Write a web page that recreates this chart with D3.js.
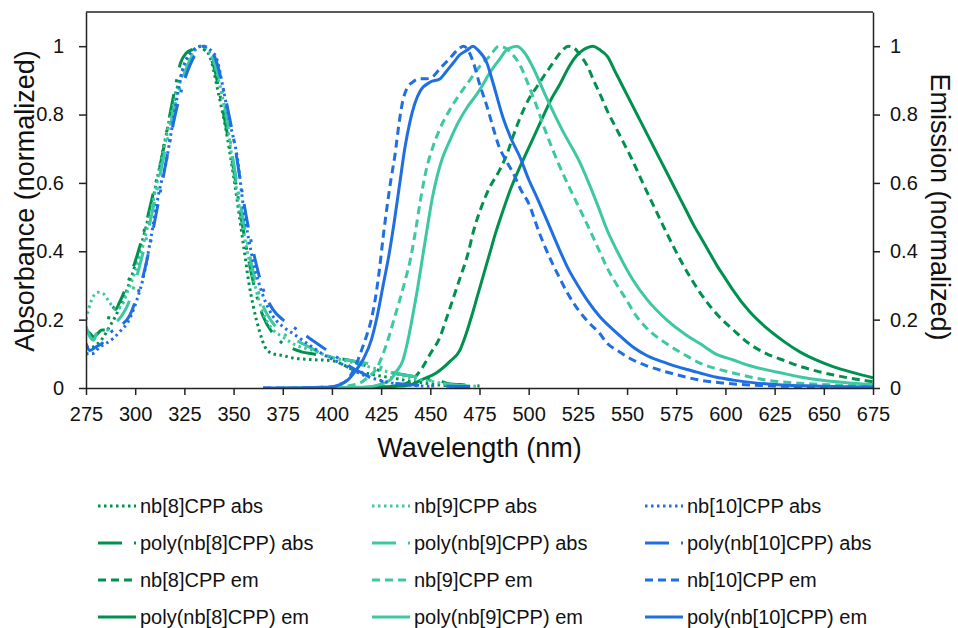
<!DOCTYPE html>
<html>
<head>
<meta charset="utf-8">
<script src="https://cdn.jsdelivr.net/npm/d3@7"></script>
<style>
  html, body { margin: 0; padding: 0; background: #fff; }
  svg { display: block; font-family: "Liberation Sans", Arial, sans-serif; }
</style>
</head>
<body>
<svg id="chart" width="958" height="628"></svg>
<script>
// ---------------- DATA ----------------
const xTicks = [275,300,325,350,375,400,425,450,475,500,525,550,575,600,625,650,675];
const yTicks = [0, 0.2, 0.4, 0.6, 0.8, 1];

// Absorbance
const nb8AbsX = [275,278,281,284,287,290,293,296,300,305,310,315,320,325,330,333,336,339,342,346,350,355,358,360,363,366,370,375,380,390,400,405,410,420,430,440,450,460,470];
const nb8AbsY = [0.12,0.12,0.13,0.15,0.18,0.21,0.25,0.29,0.36,0.46,0.58,0.72,0.85,0.94,0.99,1.0,0.99,0.95,0.87,0.76,0.62,0.42,0.30,0.24,0.17,0.12,0.10,0.095,0.088,0.083,0.08,0.07,0.055,0.04,0.03,0.02,0.012,0.006,0.003];

const polyNb8AbsX = [275,277,279,281,283,285,286,288,290,292,295,300,305,310,313,316,320,323,326,329,332,335,338,340,343,346,350,355,360,365,370,375,380,385,390,395,400,405,410,415,420,425,430,435,440,445,450,455,460,465,470,475];
const polyNb8AbsY = [0.17,0.16,0.15,0.16,0.17,0.17,0.19,0.24,0.23,0.25,0.29,0.37,0.47,0.59,0.66,0.75,0.87,0.95,0.98,0.99,1.0,0.99,0.97,0.94,0.86,0.77,0.64,0.46,0.31,0.21,0.16,0.13,0.115,0.105,0.10,0.095,0.09,0.085,0.08,0.07,0.06,0.05,0.045,0.04,0.035,0.03,0.025,0.02,0.012,0.01,0.008,0.006];

const nb9AbsX = [275,278,281,284,287,290,293,296,300,305,310,315,320,325,330,334,338,342,346,350,355,360,365,370,375,380,390,400,410,420,430,440,450,460,470,475];
const nb9AbsY = [0.20,0.26,0.28,0.275,0.25,0.23,0.24,0.28,0.34,0.44,0.57,0.71,0.84,0.93,0.985,1.0,0.98,0.91,0.80,0.64,0.46,0.32,0.22,0.17,0.15,0.13,0.11,0.09,0.075,0.06,0.045,0.03,0.02,0.01,0.006,0.005];

const polyNb9AbsX = [275,277,279,281,284,287,290,293,296,300,305,310,315,320,325,330,334,338,342,346,350,355,360,365,370,375,380,385,390,395,400,405,410,415,420,425,430,435,440,445,450,455,460,470,475];
const polyNb9AbsY = [0.18,0.15,0.14,0.17,0.17,0.17,0.19,0.21,0.24,0.31,0.42,0.55,0.69,0.82,0.92,0.98,1.0,0.98,0.92,0.81,0.66,0.49,0.34,0.24,0.19,0.16,0.145,0.13,0.115,0.10,0.09,0.085,0.08,0.075,0.07,0.06,0.05,0.04,0.035,0.03,0.022,0.015,0.01,0.006,0.005];

const nb10AbsX = [275,278,282,285,289,293,296,301,304,308,312,316,318.5,321,324,328,334.5,338,341.6,344.6,348,352,355,360,365,370,375,380,385,390,395,400,405,410,415,420,430,440,450];
const nb10AbsY = [0.10,0.10,0.12,0.13,0.146,0.17,0.19,0.26,0.32,0.44,0.57,0.67,0.755,0.84,0.93,0.98,1.0,0.99,0.96,0.88,0.78,0.67,0.53,0.37,0.27,0.21,0.18,0.16,0.14,0.12,0.10,0.085,0.07,0.055,0.04,0.03,0.015,0.008,0.005];

const polyNb10AbsX = [275,277,280,283,287,292,297,301,305,310,315,320,325,330,335,338,341,345,348,350,352,355,360,365,370,375,380,385,390,395,400,405,410,415,420,425,430,440,450,460,475];
const polyNb10AbsY = [0.13,0.11,0.12,0.13,0.16,0.18,0.21,0.27,0.35,0.49,0.64,0.79,0.90,0.97,1.0,0.99,0.96,0.87,0.79,0.73,0.66,0.55,0.40,0.29,0.23,0.20,0.18,0.16,0.14,0.12,0.10,0.08,0.06,0.045,0.03,0.02,0.015,0.01,0.006,0.005,0.004];

// Emission
const nb8EmX = [390,410,425,432,438,442,446,450,455,458,461.5,465,469,472,476,480,485,489,492,495.6,500,504,508,511,514,517.5,520,523,526,530,533,537,540,544,548,552,556,560,565,570,578.5,587,595,604,612,621,630,638,646,655,665,675];
const nb8EmY = [0,0.001,0.003,0.006,0.014,0.03,0.06,0.10,0.15,0.20,0.26,0.32,0.39,0.46,0.53,0.585,0.635,0.685,0.735,0.79,0.845,0.88,0.915,0.94,0.965,0.99,1.0,0.995,0.975,0.94,0.90,0.85,0.81,0.765,0.72,0.675,0.625,0.575,0.515,0.455,0.36,0.28,0.22,0.17,0.13,0.10,0.08,0.063,0.05,0.038,0.027,0.018];

const polyNb8EmX = [400,420,432,439.7,446,453,460,465,468,471,474,477,480,483,487,491,495,499,503,507,511,516,520,524,528,532.7,536,540,544,548,552,556,560,564,568,572,576,580,584,588,592,596,600,604,612,621,630,638,646,655,665,675];
const polyNb8EmY = [0,0.002,0.005,0.009,0.025,0.044,0.078,0.11,0.155,0.21,0.27,0.33,0.39,0.45,0.52,0.585,0.64,0.69,0.74,0.79,0.84,0.89,0.935,0.97,0.99,1.0,0.99,0.97,0.925,0.88,0.835,0.79,0.745,0.70,0.655,0.61,0.565,0.52,0.475,0.435,0.395,0.355,0.32,0.285,0.225,0.175,0.135,0.105,0.082,0.062,0.045,0.03];

const nb9EmX = [375,395,405,414,418,423,426,429.5,432,434.6,437,440,442.5,445,448,451,455,460,465,470,475,480,485,488,492,496,500,504,508,512,516,520,525,530,536,540,545,550,553,560,570,580,587,595,604,612,621,635,655,675];
const nb9EmY = [0,0.001,0.004,0.014,0.03,0.06,0.10,0.16,0.21,0.26,0.31,0.38,0.46,0.55,0.64,0.70,0.76,0.815,0.86,0.90,0.94,0.97,1.0,0.995,0.975,0.94,0.885,0.825,0.76,0.70,0.645,0.595,0.535,0.475,0.40,0.35,0.30,0.255,0.225,0.175,0.13,0.095,0.073,0.057,0.044,0.033,0.023,0.015,0.009,0.006];

const polyNb9EmX = [380,400,410,418,424,429.5,433,436,439,441,443.5,446,448.5,451,453.5,456,460,464,468.6,473.7,477,480,485,489,494,498,502,509,517,526,534.7,540,545,553,560,570,580,587,595,604,612,621,630,638,650,663,675];
const polyNb9EmY = [0,0.001,0.002,0.003,0.01,0.023,0.05,0.08,0.15,0.21,0.29,0.38,0.47,0.555,0.62,0.67,0.725,0.775,0.82,0.86,0.89,0.92,0.96,0.99,1.0,0.98,0.94,0.85,0.755,0.66,0.54,0.46,0.40,0.316,0.26,0.20,0.155,0.13,0.10,0.082,0.066,0.053,0.042,0.032,0.022,0.015,0.01];

const nb10EmX = [365,380,390,395,400,404,408,412,415,418,420,422,424,426,428,430,432,434,436,438,441,445,448,451,455,460,464,467,469,472,475,479,482,485,488,492,496,500,505,510,515,520,525,530,536,540,545,553,560,570,580,587,600,612,625,640,655,675];
const nb10EmY = [0,0,0.001,0.002,0.003,0.01,0.025,0.065,0.11,0.16,0.20,0.26,0.34,0.44,0.53,0.61,0.68,0.77,0.84,0.875,0.895,0.905,0.905,0.91,0.935,0.965,0.99,1.0,0.99,0.95,0.89,0.82,0.76,0.705,0.67,0.63,0.58,0.54,0.46,0.39,0.33,0.275,0.23,0.195,0.16,0.13,0.11,0.082,0.065,0.047,0.032,0.023,0.014,0.009,0.006,0.004,0.003,0.002];

const polyNb10EmX = [365,380,395,399,404,408,412,416,420,423,426,429,431.5,434.5,437,439.7,442,445,450,455,458,461.5,465,468.6,471.7,474,478.8,482,487,491,495.6,500,504,510.8,516,520,525,530,536,545,553,560,570,580,587,595,604,615,629,645,660,675];
const polyNb10EmY = [0,0,0.002,0.003,0.01,0.023,0.05,0.085,0.14,0.21,0.30,0.39,0.48,0.60,0.70,0.78,0.83,0.87,0.895,0.905,0.925,0.95,0.975,0.988,1.0,0.99,0.95,0.89,0.79,0.73,0.675,0.61,0.56,0.47,0.40,0.35,0.30,0.255,0.21,0.16,0.12,0.095,0.073,0.055,0.044,0.032,0.023,0.015,0.009,0.006,0.004,0.003];

const seriesNames = [
  "nb[8]CPP abs","poly(nb[8]CPP) abs","nb[8]CPP em","poly(nb[8]CPP) em",
  "nb[9]CPP abs","poly(nb[9]CPP) abs","nb[9]CPP em","poly(nb[9]CPP) em",
  "nb[10]CPP abs","poly(nb[10]CPP) abs","nb[10]CPP em","poly(nb[10]CPP) em"
];

// ---------------- STYLES ----------------
const GREEN = "#00914f", TEAL = "#3cc8a0", BLUE = "#1f6fe3";
const DOT = "2.5,3.5", LONGDASHDOT = "24,12,3,12", DASH = "8,5", SOLID = null;

const series = [
  {name: seriesNames[0], x: nb8AbsX, y: nb8AbsY, color: GREEN, dash: DOT},
  {name: seriesNames[1], x: polyNb8AbsX, y: polyNb8AbsY, color: GREEN, dash: LONGDASHDOT},
  {name: seriesNames[2], x: nb8EmX, y: nb8EmY, color: GREEN, dash: DASH},
  {name: seriesNames[3], x: polyNb8EmX, y: polyNb8EmY, color: GREEN, dash: SOLID},
  {name: seriesNames[4], x: nb9AbsX, y: nb9AbsY, color: TEAL, dash: DOT},
  {name: seriesNames[5], x: polyNb9AbsX, y: polyNb9AbsY, color: TEAL, dash: LONGDASHDOT},
  {name: seriesNames[6], x: nb9EmX, y: nb9EmY, color: TEAL, dash: DASH},
  {name: seriesNames[7], x: polyNb9EmX, y: polyNb9EmY, color: TEAL, dash: SOLID},
  {name: seriesNames[8], x: nb10AbsX, y: nb10AbsY, color: BLUE, dash: DOT},
  {name: seriesNames[9], x: polyNb10AbsX, y: polyNb10AbsY, color: BLUE, dash: LONGDASHDOT},
  {name: seriesNames[10], x: nb10EmX, y: nb10EmY, color: BLUE, dash: DASH},
  {name: seriesNames[11], x: polyNb10EmX, y: polyNb10EmY, color: BLUE, dash: SOLID}
];

// ---------------- CHART ----------------
const svg = d3.select("#chart");
const L = 86, R = 873, T = 12, B = 388;
const x = d3.scaleLinear().domain([275, 675]).range([L, R]);
const y = d3.scaleLinear().domain([0, 1.1]).range([B, T]);
const fmt = d => d === 0 ? "0" : d === 1 ? "1" : d.toFixed(1);

const line = d3.line().x(d => x(d[0])).y(d => y(d[1])).curve(d3.curveMonotoneX);

const plot = svg.append("g");
plot.append("defs").append("clipPath").attr("id", "clip")
  .append("rect").attr("x", L).attr("y", T).attr("width", R - L).attr("height", B - T);

const lines = plot.append("g").attr("clip-path", "url(#clip)");
series.forEach(s => {
  const pts = s.x.map((v, i) => [v, s.y[i]]);
  lines.append("path")
    .datum(pts)
    .attr("d", line)
    .attr("fill", "none")
    .attr("stroke", s.color)
    .attr("stroke-width", 3)
    .attr("stroke-dasharray", s.dash)
    .attr("stroke-linejoin", "round");
});

// Axes
const axisColor = "#222";
const xAxis = d3.axisBottom(x).tickValues(xTicks).tickSize(7).tickSizeOuter(0).tickPadding(12).tickFormat(d3.format("d"));
const yAxisL = d3.axisLeft(y).tickValues(yTicks).tickSize(7).tickSizeOuter(0).tickPadding(15).tickFormat(fmt);
const yAxisR = d3.axisRight(y).tickValues(yTicks).tickSize(7).tickSizeOuter(0).tickPadding(10).tickFormat(fmt);

function styleAxis(g) {
  g.selectAll("path").attr("stroke", axisColor).attr("stroke-width", 1.5);
  g.selectAll("line").attr("stroke", axisColor).attr("stroke-width", 1.5);
  g.selectAll("text").attr("font-size", 20).attr("fill", "#111").attr("font-family", "Liberation Sans, Arial, sans-serif");
}
svg.append("g").attr("transform", `translate(0,${B})`).call(xAxis).call(styleAxis);
svg.append("g").attr("transform", `translate(${L},0)`).call(yAxisL).call(styleAxis);
svg.append("g").attr("transform", `translate(${R},0)`).call(yAxisR).call(styleAxis);
svg.append("line").attr("x1", L).attr("x2", R).attr("y1", T).attr("y2", T)
  .attr("stroke", axisColor).attr("stroke-width", 1.5);

// Titles
svg.append("text").attr("x", (L + R) / 2).attr("y", 457).attr("text-anchor", "middle")
  .attr("font-size", 27).attr("fill", "#111").text("Wavelength (nm)");
svg.append("text").attr("transform", "translate(34,201) rotate(-90)").attr("text-anchor", "middle")
  .attr("font-size", 27).attr("fill", "#111").text("Absorbance (normalized)");
svg.append("text").attr("transform", "translate(931,207) rotate(90)").attr("text-anchor", "middle")
  .attr("font-size", 27).attr("fill", "#111").text("Emission (normalized)");

// Legend
const colTextX = [140, 414, 687];
const rowY = [506, 543, 580, 617];
const leg = svg.append("g");
series.forEach((s, i) => {
  const col = Math.floor(i / 4), row = i % 4;
  const tx = colTextX[col], cy = rowY[row];
  leg.append("line")
    .attr("x1", tx - 42).attr("x2", tx - 4).attr("y1", cy).attr("y2", cy)
    .attr("stroke", s.color).attr("stroke-width", 3)
    .attr("stroke-dasharray", s.dash);
  leg.append("text").attr("x", tx).attr("y", cy).attr("dy", "0.35em")
    .attr("font-size", 20).attr("fill", "#111").text(s.name);
});
</script>
</body>
</html>
